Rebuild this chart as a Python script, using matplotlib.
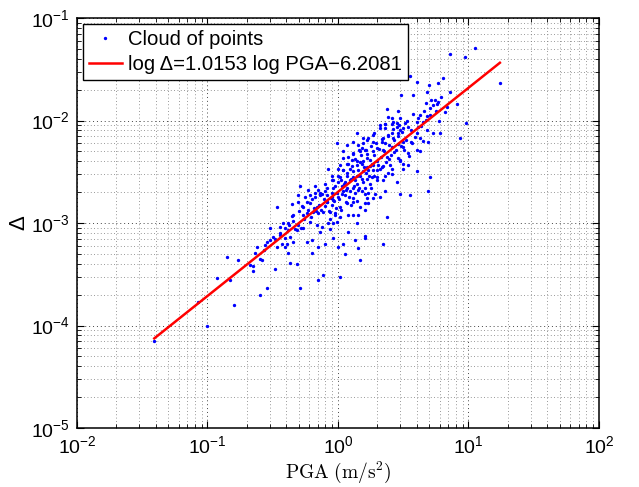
import numpy as np
import matplotlib
matplotlib.use("Agg")
import matplotlib.pyplot as plt
from matplotlib.ticker import LogLocator, NullFormatter

# Peak ground acceleration (m/s^2) and measured Delta for each record
pga = [
    4.05, 4.95, 5.84, 17.4, 3.04, 3.78, 4.78, 7.22, 5.54, 5.87,
    5.71, 5.37, 4.72, 8.12, 2.88, 2.39, 5.07, 6.81, 4.25, 5.07,
    2.43, 2.58, 2.99, 2.65, 2.58, 2.30, 2.82, 3.26, 4.01, 4.46,
    4.72, 5.91, 2.10, 2.29, 2.82, 3.17, 3.46, 4.12, 9.57, 2.58,
    2.90, 2.99, 4.78, 5.37, 6.05, 4.01, 1.39, 1.86, 1.56, 2.22,
    2.43, 2.65, 4.25, 4.92, 8.61, 1.31, 1.66, 1.86, 2.16, 2.29,
    3.17, 3.67, 0.977, 1.17, 1.43, 1.52, 1.61, 1.98, 2.20, 2.58,
    3.17, 4.25, 1.10, 1.31, 1.47, 1.66, 1.86, 2.36, 2.90, 3.46,
    1.20, 1.10, 1.27, 1.39, 1.56, 1.76, 1.98, 2.99, 1.04, 1.17,
    1.39, 1.52, 1.66, 1.86, 2.04, 2.16, 2.50, 3.17, 3.46, 0.843,
    1.00, 1.10, 1.24, 1.31, 1.43, 1.56, 1.71, 1.86, 2.10, 2.43,
    2.58, 3.17, 4.01, 5.07, 0.895, 1.04, 1.17, 1.31, 1.47, 1.66,
    1.81, 1.98, 0.92, 1.00, 1.13, 1.24, 1.39, 1.56, 1.76, 2.22,
    2.82, 0.511, 0.667, 0.819, 0.92, 1.07, 1.17, 1.31, 1.43, 1.61,
    0.592, 0.667, 0.728, 0.795, 0.895, 0.977, 1.10, 1.24, 1.35, 1.52,
    1.71, 1.92, 2.10, 2.29, 2.99, 3.56, 4.92, 0.496, 0.559, 0.61,
    0.667, 0.728, 0.819, 0.895, 1.00, 1.13, 1.31, 1.66, 1.86,
    0.339, 0.442, 0.496, 0.542, 0.61, 0.687, 0.819, 0.92, 1.04, 1.17,
    1.31, 1.47, 1.61, 1.71, 1.61, 1.20, 1.31, 1.43, 2.36, 0.442,
    0.454, 0.542, 0.592, 0.647, 0.706, 0.771, 0.868, 0.948, 1.04, 0.381,
    0.416, 0.496, 0.61, 0.687, 0.75, 0.843, 0.92, 0.977, 1.41, 0.301,
    0.359, 0.416, 0.483, 0.542, 0.728, 0.868, 1.20, 0.319, 0.359, 0.393,
    0.429, 0.454, 0.575, 0.629, 0.92, 1.35, 1.61, 1.61, 0.284, 0.276,
    0.37, 0.405, 0.795, 1.00, 1.10, 2.22, 1.43, 0.238, 0.231, 0.339,
    0.393, 0.416, 0.629, 0.706, 1.13, 0.140, 0.172, 0.253, 0.26, 1.47,
    0.212, 0.224, 0.329, 0.429, 0.483, 0.224, 0.118, 0.149, 0.706, 0.771,
    1.04, 0.284, 0.253, 0.511, 0.085, 0.16, 0.10, 0.0391,
    7.22, 9.4, 11.2, 3.56, 6.38,
    0.55, 0.58, 0.62, 0.65, 0.68, 0.72, 0.74, 0.78, 0.80, 0.83,
    0.85, 0.88, 0.90, 0.93, 0.95, 0.97, 1.02, 1.05, 1.08, 1.12,
    1.15, 1.18, 1.22, 1.25, 1.28, 1.33, 1.36, 1.40, 1.45, 1.48,
    1.50, 1.54, 1.58, 1.63, 1.68, 1.72, 1.78, 1.83, 1.88, 1.95,
    2.00, 2.05, 2.12, 2.18, 2.25, 2.33, 2.40, 2.48, 2.55, 2.62,
    2.70, 2.78, 2.86, 2.95, 3.05, 3.12, 3.30, 3.40, 3.60, 3.75,
    3.90, 4.10, 4.35, 4.60, 4.85, 5.20, 5.60, 6.20, 6.60,
    0.42, 0.45, 0.47, 0.50, 0.52, 0.36, 0.39, 0.33, 0.30, 0.27,
    1.10, 1.20, 1.30, 1.45, 1.55, 1.70, 1.90, 2.10, 2.30, 1.00,
    0.90, 0.80, 0.70, 0.75, 0.63, 0.58, 0.53,
    1.25, 1.40, 1.60, 1.80, 2.00, 2.30, 2.60, 3.00, 3.50, 4.00,
    4.50, 1.35, 1.65, 1.75, 2.20, 2.45, 2.70, 2.90, 3.20, 3.60,
    1.90, 1.15, 1.05, 0.95, 0.87,
]
delta = [
    2.4e-2, 2.2e-2, 2.3e-2, 2.3e-2, 1.76e-2, 1.77e-2, 1.91e-2, 1.91e-2, 1.58e-2, 1.53e-2,
    1.45e-2, 1.42e-2, 1.49e-2, 1.45e-2, 1.24e-2, 1.30e-2, 1.32e-2, 1.36e-2, 1.13e-2, 1.13e-2,
    1.09e-2, 1.05e-2, 1.05e-2, 9.7e-3, 9.2e-3, 9.2e-3, 9.4e-3, 9.4e-3, 9.7e-3, 9.7e-3,
    1.01e-2, 1.0e-2, 9.0e-3, 8.4e-3, 8.7e-3, 8.5e-3, 8.7e-3, 8.7e-3, 9.4e-3, 7.5e-3,
    7.6e-3, 8.1e-3, 8.1e-3, 7.5e-3, 7.5e-3, 7.5e-3, 7.5e-3, 7.2e-3, 6.7e-3, 6.7e-3,
    7.0e-3, 6.7e-3, 6.7e-3, 6.2e-3, 6.7e-3, 6.2e-3, 6.5e-3, 6.2e-3, 6.2e-3, 6.0e-3,
    6.2e-3, 6.0e-3, 6.0e-3, 5.8e-3, 5.8e-3, 5.4e-3, 5.2e-3, 5.4e-3, 5.2e-3, 5.5e-3,
    5.5e-3, 5.0e-3, 5.0e-3, 4.8e-3, 5.0e-3, 4.7e-3, 5.0e-3, 4.4e-3, 4.3e-3, 4.8e-3,
    4.4e-3, 4.3e-3, 4.1e-3, 4.0e-3, 4.0e-3, 4.1e-3, 4.0e-3, 4.1e-3, 3.7e-3, 3.8e-3,
    3.7e-3, 3.8e-3, 3.5e-3, 3.7e-3, 3.7e-3, 3.5e-3, 3.7e-3, 3.8e-3, 3.7e-3, 3.4e-3,
    3.4e-3, 3.3e-3, 3.4e-3, 3.2e-3, 3.3e-3, 3.2e-3, 3.3e-3, 3.3e-3, 3.4e-3, 3.1e-3,
    3.0e-3, 3.4e-3, 3.2e-3, 2.8e-3, 2.9e-3, 2.8e-3, 2.9e-3, 2.8e-3, 2.9e-3, 2.7e-3,
    2.8e-3, 2.8e-3, 2.6e-3, 2.5e-3, 2.5e-3, 2.6e-3, 2.4e-3, 2.5e-3, 2.4e-3, 2.6e-3,
    2.5e-3, 2.3e-3, 2.3e-3, 2.2e-3, 2.2e-3, 2.3e-3, 2.2e-3, 2.2e-3, 2.1e-3, 2.2e-3,
    2.1e-3, 1.98e-3, 1.98e-3, 2.05e-3, 1.98e-3, 1.98e-3, 2.05e-3, 2.05e-3, 1.98e-3, 2.05e-3,
    1.98e-3, 1.9e-3, 1.81e-3, 2.05e-3, 1.9e-3, 1.87e-3, 2.05e-3, 1.87e-3, 1.81e-3, 1.87e-3,
    1.81e-3, 1.87e-3, 1.87e-3, 1.81e-3, 1.81e-3, 1.87e-3, 1.74e-3, 1.74e-3, 1.74e-3,
    1.44e-3, 1.53e-3, 1.61e-3, 1.44e-3, 1.56e-3, 1.44e-3, 1.61e-3, 1.68e-3, 1.44e-3, 1.56e-3,
    1.61e-3, 1.44e-3, 1.56e-3, 1.56e-3, 1.34e-3, 1.2e-3, 1.2e-3, 1.2e-3, 1.15e-3, 1.17e-3,
    1.2e-3, 1.2e-3, 1.34e-3, 1.29e-3, 1.24e-3, 1.29e-3, 1.29e-3, 1.24e-3, 1.15e-3, 1.0e-3,
    1.0e-3, 9.6e-4, 1.03e-3, 9.6e-4, 9.2e-4, 1.0e-3, 1.0e-3, 1.03e-3, 1.0e-3, 8.9e-4,
    9.2e-4, 8.5e-4, 8.5e-4, 8.9e-4, 8.2e-4, 8.7e-4, 8.2e-4, 7.3e-4, 7.6e-4, 7.1e-4,
    7.3e-4, 6.6e-4, 6.6e-4, 6.8e-4, 7.1e-4, 6.9e-4, 7.5e-4, 7.1e-4, 6.6e-4, 6.1e-4,
    6.3e-4, 6.3e-4, 6.2e-4, 5.9e-4, 6.3e-4, 6.3e-4, 5.7e-4, 5.9e-4, 5.1e-4, 5.8e-4,
    5.9e-4, 5.1e-4, 5.1e-4, 5.9e-4, 5.0e-4, 4.7e-4, 4.4e-4, 4.5e-4, 4.4e-4, 4.4e-4,
    3.9e-4, 3.8e-4, 3.6e-4, 4.1e-4, 4.0e-4, 3.4e-4, 2.9e-4, 2.8e-4, 2.8e-4, 3.1e-4,
    3.0e-4, 2.3e-4, 2.0e-4, 2.3e-4, 1.7e-4, 1.6e-4, 1.0e-4, 7.1e-5,
    4.5e-2, 4.2e-2, 5.1e-2, 2.7e-2, 2.6e-2,
    1.1e-3, 1.25e-3, 1.15e-3, 1.4e-3, 1.3e-3, 1.5e-3, 1.35e-3, 1.7e-3, 1.45e-3, 1.6e-3,
    1.3e-3, 1.75e-3, 1.5e-3, 1.65e-3, 2.3e-3, 1.4e-3, 1.7e-3, 2.6e-3, 1.9e-3, 2.4e-3,
    2.1e-3, 3.1e-3, 1.8e-3, 2.7e-3, 3.6e-3, 2.3e-3, 4.2e-3, 2.9e-3, 2.2e-3, 3.9e-3,
    4.6e-3, 2.7e-3, 3.5e-3, 5.1e-3, 4.3e-3, 2.9e-3, 5.6e-3, 3.8e-3, 4.6e-3, 6.1e-3,
    3.3e-3, 5.3e-3, 4.4e-3, 6.6e-3, 5.0e-3, 3.9e-3, 7.3e-3, 5.8e-3, 4.6e-3, 8.2e-3,
    6.4e-3, 5.2e-3, 7.0e-3, 9.0e-3, 5.6e-3, 7.8e-3, 6.5e-3, 9.9e-3, 8.0e-3, 1.15e-2,
    6.9e-3, 1.05e-2, 8.8e-3, 1.25e-2, 1.1e-2, 1.6e-2, 1.25e-2, 1.7e-2, 1.2e-2,
    9.5e-4, 1.05e-3, 8.8e-4, 1.3e-3, 9.0e-4, 8.0e-4, 9.0e-4, 7.0e-4, 6.8e-4, 5.5e-4,
    3.3e-3, 3.8e-3, 4.7e-3, 5.2e-3, 6.0e-3, 6.8e-3, 7.6e-3, 8.5e-3, 9.3e-3, 2.9e-3,
    2.6e-3, 2.4e-3, 2.1e-3, 1.9e-3, 1.7e-3, 1.6e-3, 1.45e-3,
    1.5e-3, 1.65e-3, 1.9e-3, 2.2e-3, 2.6e-3, 2.9e-3, 3.4e-3, 4.0e-3, 4.5e-3, 5.2e-3,
    6.3e-3, 2.6e-3, 3.1e-3, 3.6e-3, 3.6e-3, 4.2e-3, 4.9e-3, 5.9e-3, 5.1e-3, 6.2e-3,
    2.9e-3, 1.6e-3, 1.35e-3, 1.2e-3, 1.1e-3,
]

# Regression in natural logarithms: ln(Delta) = slope * ln(PGA) + intercept
slope = 1.0153
intercept = -6.2081

legend_points = "Cloud of points"
legend_fit = "log \u0394={:.4f} log PGA\u2212{:.4f}".format(slope, -intercept)

pga = np.array(pga)
delta = np.array(delta)

plt.rcParams["font.family"] = ["Liberation Sans", "DejaVu Sans"]

fig = plt.figure(figsize=(6.39, 4.87), dpi=100)
ax = fig.add_axes([0.1205, 0.1211, 0.8169, 0.8419])

ax.set_xscale("log")
ax.set_yscale("log")
ax.set_xlim(1e-2, 1e2)
ax.set_ylim(1e-5, 1e-1)

ax.plot(pga, delta, linestyle="none", marker=".", markersize=2.8,
        color="#0000ff", label=legend_points, zorder=3)

x_fit = np.linspace(pga.min(), pga.max(), 200)
y_fit = np.exp(intercept) * x_fit ** slope
ax.plot(x_fit, y_fit, color="#ff0000", linewidth=1.8, label=legend_fit, zorder=4)

# dotted grid on major and minor decades
ax.xaxis.set_minor_locator(LogLocator(base=10, subs=np.arange(2, 10), numticks=20))
ax.yaxis.set_minor_locator(LogLocator(base=10, subs=np.arange(2, 10), numticks=20))
ax.xaxis.set_minor_formatter(NullFormatter())
ax.yaxis.set_minor_formatter(NullFormatter())
ax.grid(True, which="major", linestyle=(0, (1, 3)), color="#444444", linewidth=0.7)
ax.grid(True, which="minor", linestyle=(0, (1, 3)), color="#777777", linewidth=0.6)
ax.set_axisbelow(True)

ax.tick_params(which="both", direction="in", top=True, right=True, colors="black")
ax.tick_params(which="major", length=5, width=0.8, labelsize=14, pad=5)
ax.tick_params(which="minor", length=3, width=0.6)
for s in ax.spines.values():
    s.set_linewidth(1.1)
    s.set_color("black")

ax.set_xlabel(r"$\mathrm{PGA\ (m/s^2)}$", fontsize=14, math_fontfamily="cm", labelpad=2)
ax.set_ylabel("\u0394", fontsize=16, labelpad=1)

leg = ax.legend(loc="upper left", fontsize=14.6, frameon=True, fancybox=False,
                edgecolor="black", framealpha=1, handlelength=1.6,
                borderpad=0.3, labelspacing=0.3, handletextpad=0.3,
                borderaxespad=0.3, markerscale=1.0)
leg.get_frame().set_linewidth(1.0)

fig.savefig("out.png", dpi=100)
